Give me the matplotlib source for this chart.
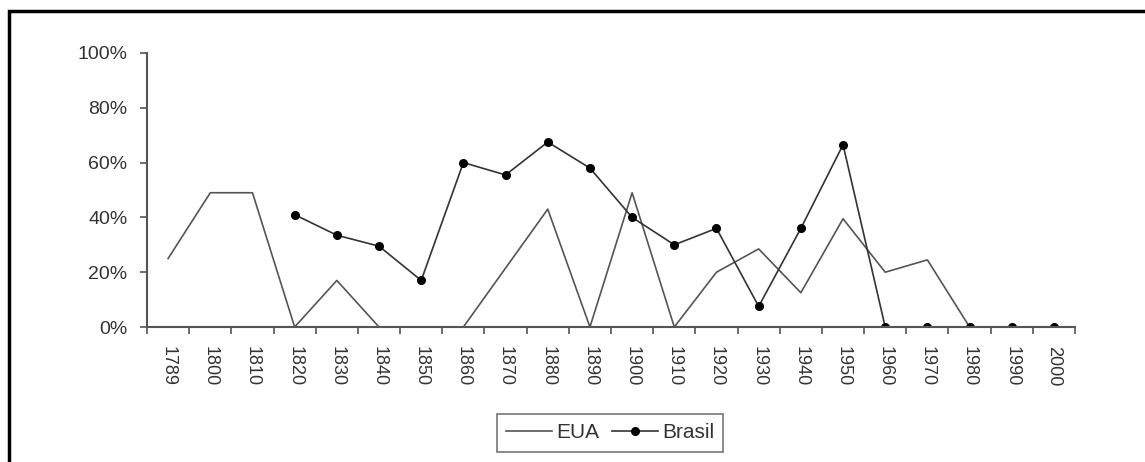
import numpy as np
import matplotlib
matplotlib.use("Agg")
import matplotlib.pyplot as plt
from matplotlib.patches import Rectangle
from matplotlib.ticker import FuncFormatter

plt.rcParams['font.family'] = ['Liberation Sans', 'DejaVu Sans']

# ── Data (share per decade, %) ───────────────────────────────────
decades = ["1789", "1800", "1810", "1820", "1830", "1840", "1850", "1860",
           "1870", "1880", "1890", "1900", "1910", "1920", "1930", "1940",
           "1950", "1960", "1970", "1980", "1990", "2000"]
eua    = [25, 49, 49, 0, 17, 0, 0, 0, 21.5, 43, 0, 49, 0, 20, 28.5, 12.5,
          39.5, 20, 24.5, 0, np.nan, np.nan]
brasil = [np.nan, np.nan, np.nan, 41, 33.5, 29.5, 17, 60, 55.5, 67.5, 58,
          40, 30, 36, 7.5, 36, 66.5, 0, 0, 0, 0, 0]

x = np.arange(len(decades))

fig = plt.figure(figsize=(11.45, 4.62), dpi=100)
ax = fig.add_axes([0.1284, 0.2922, 0.8105, 0.5931])

ax.plot(x, eua, color="#555555", linewidth=1.2, label="EUA")
ax.plot(x, brasil, color="#333333", linewidth=1.2, marker="o",
        markersize=5.5, markerfacecolor="black", markeredgecolor="black",
        label="Brasil")

ax.set_xlim(-0.5, len(decades) - 0.5)
ax.set_ylim(0, 100)
ax.set_yticks([0, 20, 40, 60, 80, 100])
ax.yaxis.set_major_formatter(FuncFormatter(lambda v, _: f"{v:.0f}%"))

ax.set_xticks(x)
ax.set_xticklabels(decades, rotation=270, fontsize=13, color="#333333")
ax.set_xticks(np.arange(-0.5, len(decades)), minor=True)
ax.tick_params(axis="x", which="major", length=0, pad=14)
ax.tick_params(axis="x", which="minor", length=5, width=1.2, color="#555555",
               direction="out")
ax.tick_params(axis="y", length=5, width=1.2, color="#555555", labelsize=14,
               labelcolor="#333333", pad=9)

for side in ("top", "right"):
    ax.spines[side].set_visible(False)
for side in ("left", "bottom"):
    ax.spines[side].set_color("#555555")
    ax.spines[side].set_linewidth(1.5)

leg = fig.legend(loc="center", bbox_to_anchor=(0.533, 0.063), ncol=2,
                 fontsize=15, frameon=True, fancybox=False, handlelength=2.2,
                 handletextpad=0.2, columnspacing=0.6, borderpad=0.45)
leg.get_frame().set_edgecolor("#555555")
leg.get_frame().set_linewidth(1.2)
for t in leg.get_texts():
    t.set_color("#333333")

# outer frame, cut off at right and bottom
fig.patches.append(Rectangle((0.008, -0.2), 1.2, 1.176, transform=fig.transFigure,
                             fill=False, edgecolor="black", linewidth=2.5))

plt.savefig("out.png", dpi=100)
plt.close()
